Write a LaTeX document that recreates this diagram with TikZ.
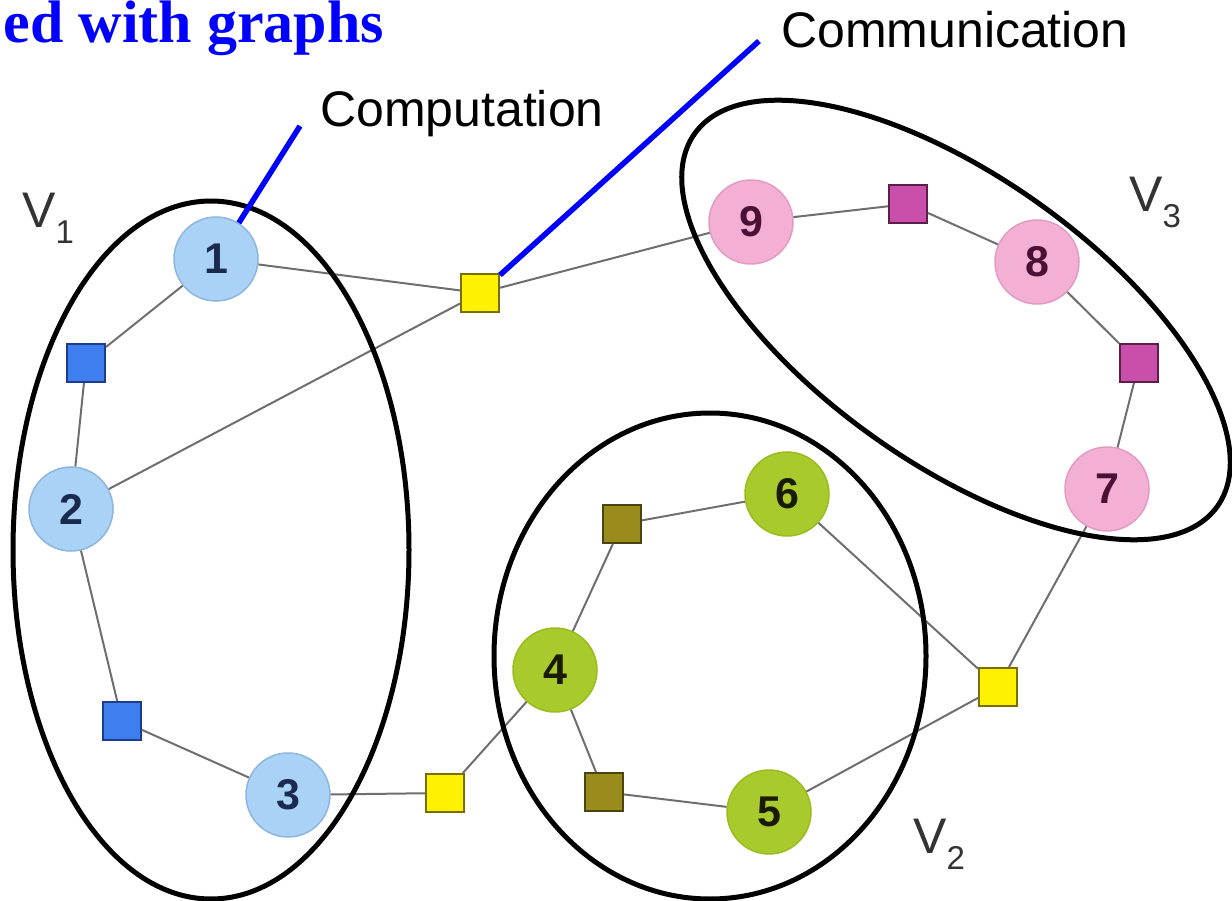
\documentclass[tikz,border=0pt]{standalone}
\usepackage{fontspec}
\setmainfont{Liberation Sans}
\newfontfamily\titlefont{Liberation Serif}
\definecolor{cblue}{HTML}{AAD2F6}
\definecolor{cbluebd}{HTML}{8DB6DE}
\definecolor{cpink}{HTML}{F4AFD4}
\definecolor{cpinkbd}{HTML}{E29CC3}
\definecolor{cgreen}{HTML}{A9CA2C}
\definecolor{cgreenbd}{HTML}{9ABC1E}
\definecolor{sqblue}{HTML}{3F7EEE}
\definecolor{sqbluebd}{HTML}{1E3C8C}
\definecolor{sqyel}{HTML}{FFF200}
\definecolor{sqyelbd}{HTML}{7A6E00}
\definecolor{sqolive}{HTML}{9A8C1C}
\definecolor{sqolivebd}{HTML}{4A4510}
\definecolor{sqmag}{HTML}{C94FAA}
\definecolor{sqmagbd}{HTML}{5C1F4A}
\definecolor{edgegray}{HTML}{6E6E6E}
\definecolor{tnavy}{HTML}{1B2B4F}
\definecolor{tpurple}{HTML}{4A1035}
\definecolor{tdark}{HTML}{1A1A00}
\definecolor{vgray}{HTML}{333333}
\definecolor{pureblue}{RGB}{0,0,255}
\tikzset{
  vert/.style={circle, minimum size=84pt, inner sep=0pt, line width=1.5pt,
    font=\fontsize{43}{43}\selectfont\bfseries},
  bluev/.style={vert, fill=cblue, draw=cbluebd, text=tnavy},
  pinkv/.style={vert, fill=cpink, draw=cpinkbd, text=tpurple},
  greenv/.style={vert, fill=cgreen, draw=cgreenbd, text=tdark},
  sq/.style={rectangle, minimum size=38pt, inner sep=0pt, line width=2pt},
  bluesq/.style={sq, fill=sqblue, draw=sqbluebd},
  yelsq/.style={sq, fill=sqyel, draw=sqyelbd},
  olivesq/.style={sq, fill=sqolive, draw=sqolivebd},
  magsq/.style={sq, fill=sqmag, draw=sqmagbd},
  edgeline/.style={draw=edgegray, line width=2pt},
  partline/.style={draw=black, line width=5pt},
  pointer/.style={draw=pureblue, line width=5.5pt},
  lbl/.style={anchor=base west, inner sep=0pt, font=\fontsize{50}{50}\selectfont},
  vlbl/.style={anchor=base west, inner sep=0pt, text=vgray, font=\fontsize{50}{50}\selectfont}
}
\newcommand{\vsub}[1]{\raisebox{-16pt}{\fontsize{33}{33}\selectfont #1}}
\begin{document}
\begin{tikzpicture}[x=1pt,y=-1pt]
\useasboundingbox (0,0) rectangle (1232,901);
% title
\node[anchor=base east, inner sep=0pt, text=pureblue, font=\titlefont\bfseries\fontsize{60}{60}\selectfont] (title) at (384,43) {ed with graphs};
% labels
\node[lbl] (comp) at (320,127) {Computation};
\node[lbl] (comm) at (781,48) {Communication};
\node[vlbl] (v1) at (22,228) {V\vsub{1}};
\node[vlbl] (v2) at (913,853) {V\vsub{2}};
\node[vlbl] (v3) at (1129,212) {V\vsub{3}};
% vertices
\node[bluev] (n1) at (216,259) {1};
\node[bluev] (n2) at (71,509) {2};
\node[bluev] (n3) at (288,795) {3};
\node[greenv] (n4) at (555,670) {4};
\node[greenv] (n5) at (769,812) {5};
\node[greenv] (n6) at (787,494) {6};
\node[pinkv] (n7) at (1107,489) {7};
\node[pinkv] (n8) at (1037,262) {8};
\node[pinkv] (n9) at (751,222) {9};
% squares
\node[bluesq] (sa) at (86,363) {};
\node[bluesq] (sb) at (122,721) {};
\node[yelsq] (yt) at (480,293) {};
\node[yelsq] (yb) at (445,793) {};
\node[yelsq] (yr) at (998,687) {};
\node[olivesq] (oa) at (622,524) {};
\node[olivesq] (ob) at (604,792) {};
\node[magsq] (ma) at (908,204) {};
\node[magsq] (mb) at (1139,363) {};
% edges
\draw[edgeline] (n1) -- (sa);
\draw[edgeline] (sa) -- (n2);
\draw[edgeline] (n2) -- (sb);
\draw[edgeline] (sb) -- (n3);
\draw[edgeline] (n1) -- (yt);
\draw[edgeline] (n2) -- (yt);
\draw[edgeline] (yt) -- (n9);
\draw[edgeline] (n9) -- (ma);
\draw[edgeline] (ma) -- (n8);
\draw[edgeline] (n8) -- (mb);
\draw[edgeline] (mb) -- (n7);
\draw[edgeline] (n7) -- (yr);
\draw[edgeline] (n6) -- (yr);
\draw[edgeline] (n5) -- (yr);
\draw[edgeline] (n3) -- (yb);
\draw[edgeline] (yb) -- (n4);
\draw[edgeline] (n4) -- (oa);
\draw[edgeline] (oa) -- (n6);
\draw[edgeline] (n4) -- (ob);
\draw[edgeline] (ob) -- (n5);
% partitions
\draw[partline] (211,550) ellipse [x radius=198, y radius=349];
\draw[partline] (710,656) ellipse [x radius=216, y radius=243];
\draw[partline, rotate around={-35.5:(956,320)}] (956,320) ellipse [x radius=321, y radius=143];
% pointers
\coordinate (c1) at (300,126);
\coordinate (c2) at (759,41);
\draw[pointer] (c1) -- (n1);
\draw[pointer] (c2) -- (yt);
\end{tikzpicture}
\end{document}
